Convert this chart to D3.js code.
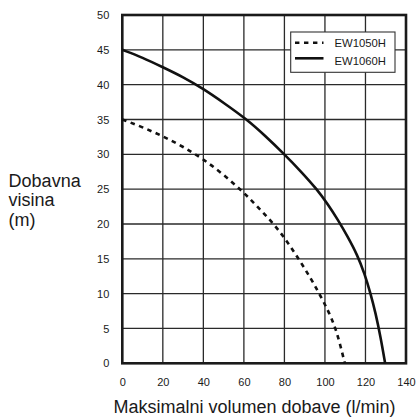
<!DOCTYPE html>
<html>
<head>
<meta charset="utf-8">
<script src="https://cdn.jsdelivr.net/npm/d3@7"></script>
<style>
  html, body { margin: 0; padding: 0; background: #fff; }
  svg { display: block; font-family: "Liberation Sans", Arial, sans-serif; }
</style>
</head>
<body>
<svg id="chart" width="417" height="417"></svg>
<script>
// Pump performance curves: delivery head (m) vs. flow rate (l/min)
const xTicks = [0, 20, 40, 60, 80, 100, 120, 140];
const yTicks = [0, 5, 10, 15, 20, 25, 30, 35, 40, 45, 50];

const seriesNames = ["EW1050H", "EW1060H"];

// EW1050H (dashed)
const ew1050Flow = [0, 10, 20, 30, 40, 50, 60, 67, 74.8, 81.1, 87, 92.6, 97.2, 101.5, 104.5, 107, 109.8];
const ew1050Head = [35, 33.9, 32.6, 31.1, 29.3, 27.1, 24.5, 22.4, 20, 17.6, 15, 12.4, 10, 7.6, 5.6, 3.3, 0];

// EW1060H (solid)
const ew1060Flow = [0, 10, 20, 30, 40, 50, 61.5, 70, 80, 88, 96, 101.5, 106.5, 111, 116, 119.5, 122.5, 125, 127.5, 129.7];
const ew1060Head = [45, 43.9, 42.5, 41.1, 39.4, 37.4, 35, 32.8, 30, 27.6, 25, 22.8, 20.55, 18.3, 15.55, 12.9, 10.05, 7.2, 3.7, 0];

const svg = d3.select("#chart");
const plotLeft = 122.3, plotRight = 406, plotTop = 15, plotBottom = 363.3;

const x = d3.scaleLinear().domain([0, 140]).range([plotLeft, plotRight]);
const y = d3.scaleLinear().domain([0, 50]).range([plotBottom, plotTop]);

// grid
const grid = svg.append("g");
grid.selectAll("line.v").data(xTicks.slice(1, -1)).join("line")
  .attr("x1", d => x(d)).attr("x2", d => x(d))
  .attr("y1", plotTop).attr("y2", plotBottom)
  .attr("stroke", "#2a2a2a").attr("stroke-width", 1.3);
grid.selectAll("line.h").data(yTicks.slice(1, -1)).join("line")
  .attr("y1", d => y(d)).attr("y2", d => y(d))
  .attr("x1", plotLeft).attr("x2", plotRight)
  .attr("stroke", "#2a2a2a").attr("stroke-width", 1.3);

// frame
svg.append("rect")
  .attr("x", plotLeft).attr("y", plotTop)
  .attr("width", plotRight - plotLeft).attr("height", plotBottom - plotTop)
  .attr("fill", "none").attr("stroke", "#1a1a1a").attr("stroke-width", 2.6);

// tick labels via d3 axes (domain and tick marks hidden)
const xAxis = svg.append("g")
  .attr("transform", `translate(0,${plotBottom})`)
  .call(d3.axisBottom(x).tickValues(xTicks).tickSize(0).tickPadding(15));
const yAxis = svg.append("g")
  .attr("transform", `translate(${plotLeft},0)`)
  .call(d3.axisLeft(y).tickValues(yTicks).tickSize(0).tickPadding(13));
[xAxis, yAxis].forEach(g => {
  g.select(".domain").remove();
  g.selectAll("text")
    .attr("font-family", "Liberation Sans, Arial, sans-serif")
    .attr("font-size", 11).attr("fill", "#1a1a1a");
});

// curves (B-spline through the read-off points keeps them smooth)
const line = d3.line().x(d => x(d[0])).y(d => y(d[1])).curve(d3.curveBasis);
const ew1050 = ew1050Flow.map((f, i) => [f, ew1050Head[i]]);
const ew1060 = ew1060Flow.map((f, i) => [f, ew1060Head[i]]);

svg.append("path").datum(ew1050)
  .attr("d", line).attr("fill", "none")
  .attr("stroke", "#111").attr("stroke-width", 2.6)
  .attr("stroke-dasharray", "4.5,4.5");
svg.append("path").datum(ew1060)
  .attr("d", line).attr("fill", "none")
  .attr("stroke", "#111").attr("stroke-width", 2.6);

// legend
const lg = svg.append("g");
lg.append("rect")
  .attr("x", 290.7).attr("y", 32).attr("width", 104.3).attr("height", 40.3)
  .attr("fill", "#fff").attr("stroke", "#333").attr("stroke-width", 1.1);
const legendRows = [
  { name: seriesNames[0], dash: "4.4,4.6", ly: 42.7, ty: 47.3 },
  { name: seriesNames[1], dash: null, ly: 58.3, ty: 64.7 }
];
legendRows.forEach(r => {
  lg.append("line")
    .attr("x1", 295).attr("x2", 323.5).attr("y1", r.ly).attr("y2", r.ly)
    .attr("stroke", "#111").attr("stroke-width", 2.6)
    .attr("stroke-dasharray", r.dash);
  lg.append("text")
    .attr("x", 334.5).attr("y", r.ty)
    .attr("font-size", 11.3).attr("fill", "#1a1a1a")
    .text(r.name);
});

// axis titles
svg.append("text")
  .attr("x", 254.5).attr("y", 413)
  .attr("text-anchor", "middle")
  .attr("font-size", 18).attr("fill", "#1a1a1a")
  .text("Maksimalni volumen dobave (l/min)");

const yTitle = ["Dobavna", "visina", "(m)"];
svg.append("text")
  .attr("font-size", 18).attr("fill", "#1a1a1a")
  .selectAll("tspan").data(yTitle).join("tspan")
  .attr("x", 8.6)
  .attr("y", (d, i) => 186.7 + i * 19.5)
  .text(d => d);
</script>
</body>
</html>
